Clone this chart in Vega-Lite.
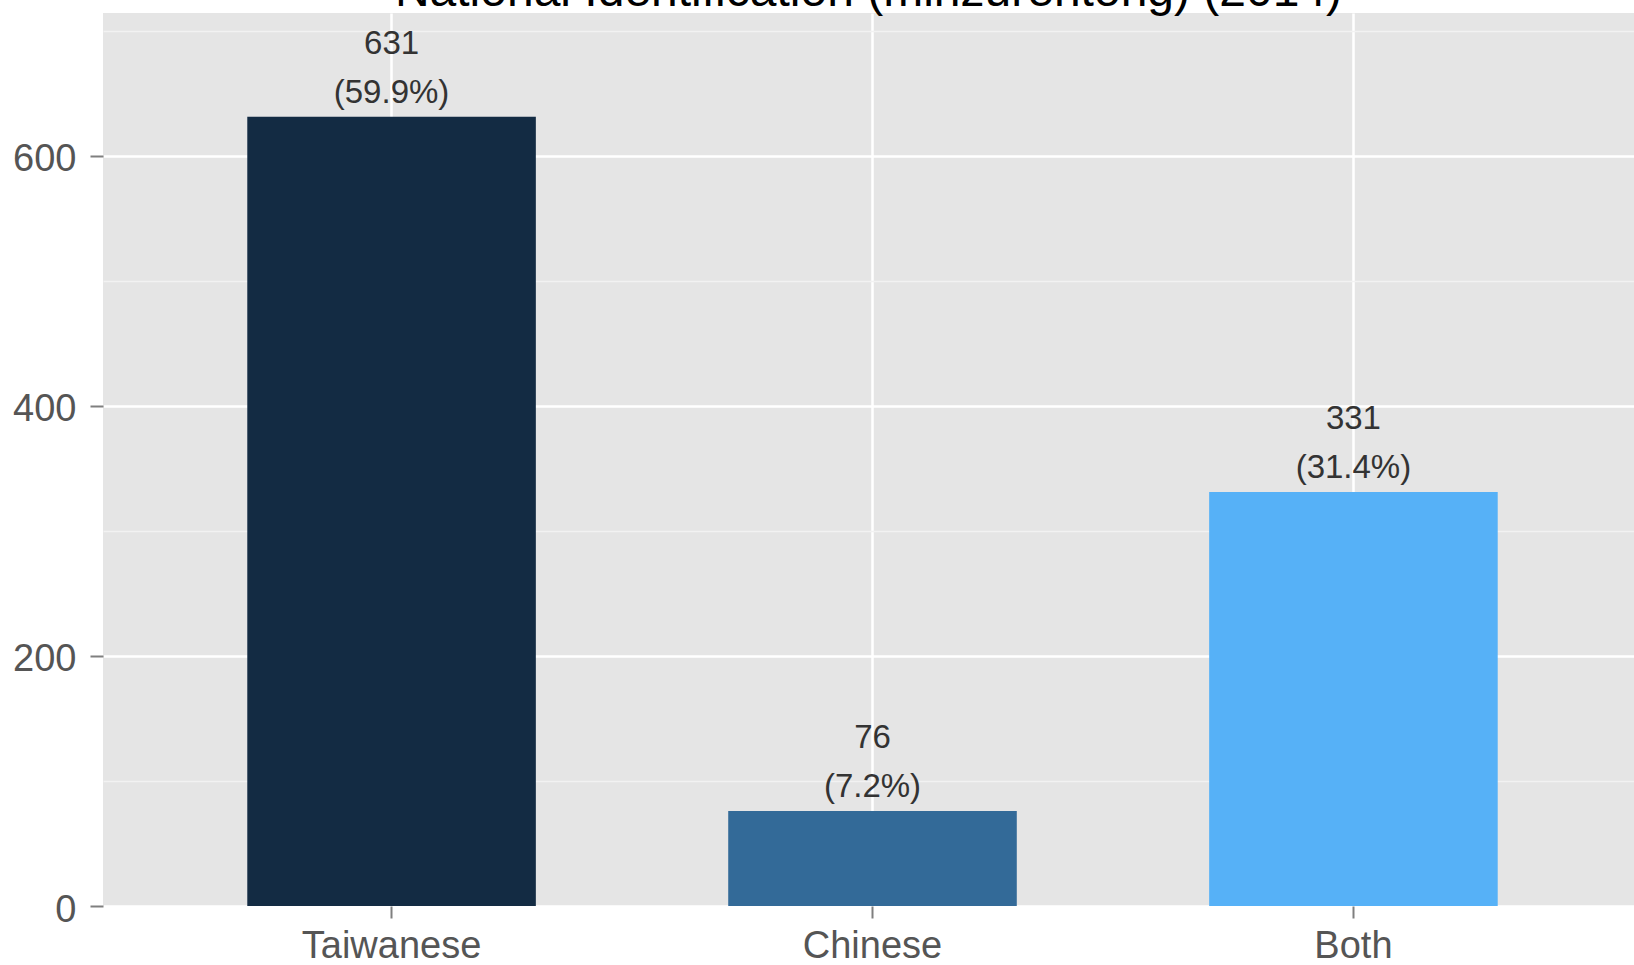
{
  "$schema": "https://vega.github.io/schema/vega-lite/v6.json",
  "width": 1531,
  "height": 893,
  "autosize": {"type": "none"},
  "padding": {"left": 103, "top": 13, "right": 0, "bottom": 59},
  "background": "white",
  "title": {
    "text": "National Identification (minzurentong) (2014)",
    "fontSize": 48,
    "font": "Liberation Sans",
    "fontWeight": "normal",
    "color": "#000000",
    "anchor": "middle",
    "frame": "group",
    "baseline": "alphabetic",
    "offset": 6,
    "dy": 47,
    "zindex": 1
  },
  "config": {
    "view": {"fill": "#e5e5e5", "stroke": null},
    "font": "Liberation Sans"
  },
  "data": {
    "values": [
      {"identity": "Taiwanese", "count": 631, "pct": "(59.9%)"},
      {"identity": "Chinese", "count": 76, "pct": "(7.2%)"},
      {"identity": "Both", "count": 331, "pct": "(31.4%)"}
    ]
  },
  "encoding": {
    "x": {
      "field": "identity",
      "type": "nominal",
      "sort": ["Taiwanese", "Chinese", "Both"],
      "scale": {"range": [0, 1539], "paddingInner": 0.4, "paddingOuter": 0.3},
      "axis": {
        "title": null,
        "labelAngle": 0,
        "labelFontSize": 38,
        "labelColor": "#555555",
        "labelPadding": 9,
        "tickSize": 12,
        "tickWidth": 2,
        "tickColor": "#7f7f7f",
        "domain": false,
        "grid": true,
        "gridColor": "#ffffff",
        "gridWidth": 2.5
      }
    }
  },
  "layer": [
    {
      "mark": {"type": "bar"},
      "encoding": {
        "y": {
          "field": "count",
          "type": "quantitative",
          "scale": {"domain": [0, 714], "nice": false, "zero": true},
          "axis": {
            "orient": "left",
            "values": [100, 300, 500, 700],
            "labels": false,
            "ticks": false,
            "domain": false,
            "grid": true,
            "gridColor": "#f2f2f2",
            "gridWidth": 1.5,
            "title": null
          }
        },
        "color": {
          "field": "identity",
          "type": "nominal",
          "scale": {
            "domain": ["Taiwanese", "Chinese", "Both"],
            "range": ["#132B43", "#336A98", "#56B1F7"]
          },
          "legend": null
        }
      }
    },
    {
      "mark": {"type": "text", "baseline": "middle", "dy": -73, "fontSize": 33, "color": "#333333"},
      "encoding": {
        "y": {
          "field": "count",
          "type": "quantitative",
          "axis": {
            "orient": "left",
            "values": [0, 200, 400, 600],
            "title": null,
            "labelFontSize": 38,
            "labelColor": "#555555",
            "labelPadding": 14,
            "labelOffset": 4,
            "tickSize": 13,
            "tickWidth": 2,
            "tickColor": "#7f7f7f",
            "domain": false,
            "grid": true,
            "gridColor": "#ffffff",
            "gridWidth": 2.5
          }
        },
        "text": {"field": "count", "type": "quantitative"}
      }
    },
    {
      "mark": {"type": "text", "baseline": "middle", "dy": -24, "fontSize": 33, "color": "#333333"},
      "encoding": {
        "y": {"field": "count", "type": "quantitative", "axis": null},
        "text": {"field": "pct", "type": "nominal"}
      }
    }
  ],
  "resolve": {"axis": {"y": "independent"}}
}
